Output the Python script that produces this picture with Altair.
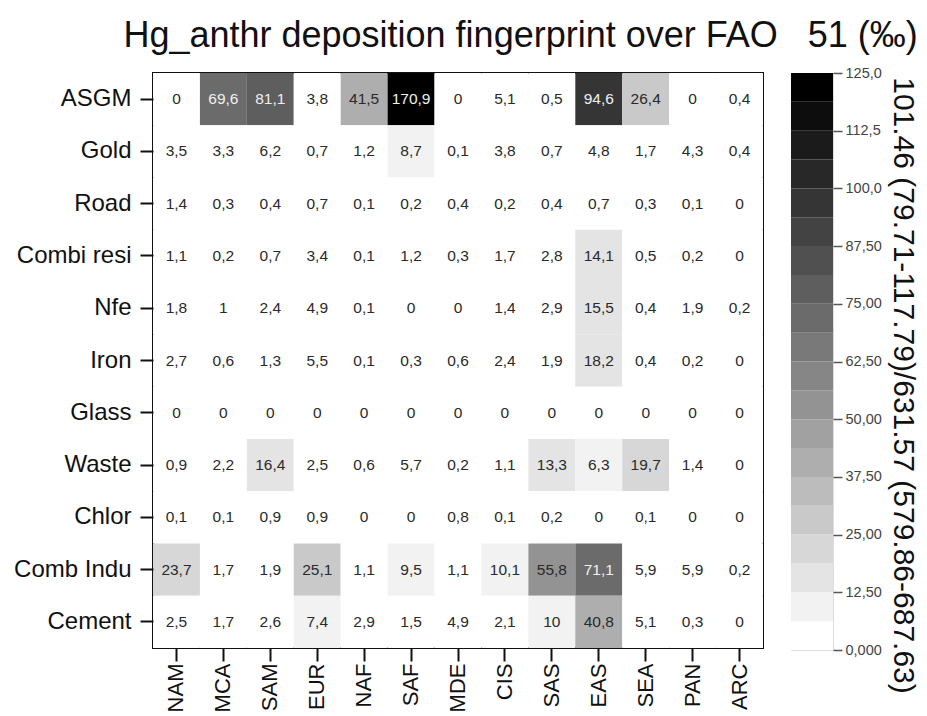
import altair as alt
import pandas as pd

sources = ["ASGM", "Gold", "Road", "Combi resi", "Nfe", "Iron", "Glass",
           "Waste", "Chlor", "Comb Indu", "Cement"]
regions = ["NAM", "MCA", "SAM", "EUR", "NAF", "SAF", "MDE", "CIS", "SAS",
           "EAS", "SEA", "PAN", "ARC"]
values = [
    [0, 69.6, 81.1, 3.8, 41.5, 170.9, 0, 5.1, 0.5, 94.6, 26.4, 0, 0.4],
    [3.5, 3.3, 6.2, 0.7, 1.2, 8.7, 0.1, 3.8, 0.7, 4.8, 1.7, 4.3, 0.4],
    [1.4, 0.3, 0.4, 0.7, 0.1, 0.2, 0.4, 0.2, 0.4, 0.7, 0.3, 0.1, 0],
    [1.1, 0.2, 0.7, 3.4, 0.1, 1.2, 0.3, 1.7, 2.8, 14.1, 0.5, 0.2, 0],
    [1.8, 1, 2.4, 4.9, 0.1, 0, 0, 1.4, 2.9, 15.5, 0.4, 1.9, 0.2],
    [2.7, 0.6, 1.3, 5.5, 0.1, 0.3, 0.6, 2.4, 1.9, 18.2, 0.4, 0.2, 0],
    [0, 0, 0, 0, 0, 0, 0, 0, 0, 0, 0, 0, 0],
    [0.9, 2.2, 16.4, 2.5, 0.6, 5.7, 0.2, 1.1, 13.3, 6.3, 19.7, 1.4, 0],
    [0.1, 0.1, 0.9, 0.9, 0, 0, 0.8, 0.1, 0.2, 0, 0.1, 0, 0],
    [23.7, 1.7, 1.9, 25.1, 1.1, 9.5, 1.1, 10.1, 55.8, 71.1, 5.9, 5.9, 0.2],
    [2.5, 1.7, 2.6, 7.4, 2.9, 1.5, 4.9, 2.1, 10, 40.8, 5.1, 0.3, 0],
]

# colour bar: 20 bands of 6.25 between 0 and 125
band_edges = [0, 6.25, 12.5, 18.75, 25, 31.25, 37.5, 43.75, 50, 56.25, 62.5,
              68.75, 75, 81.25, 87.5, 93.75, 100, 106.25, 112.5, 118.75, 125]
band_grays = ["#ffffff", "#f2f2f2", "#e4e4e4", "#d7d7d7", "#c9c9c9",
              "#bcbcbc", "#aeaeae", "#a1a1a1", "#939393", "#868686",
              "#797979", "#6b6b6b", "#5e5e5e", "#505050", "#434343",
              "#353535", "#282828", "#1b1b1b", "#0d0d0d", "#000000"]
cbar_ticks = [0, 12.5, 25, 37.5, 50, 62.5, 75, 87.5, 100, 112.5, 125]

title_text = "Hg_anthr deposition fingerprint over FAO\u00a0\u00a0 51 (\u2030)"
cbar_title = "101.46 (79.71-117.79)/631.57 (579.86-687.63)"

FONT = "Liberation Sans"

rows = []
for si, s in enumerate(sources):
    for ri, r in enumerate(regions):
        rows.append({"source": s, "region": r, "value": values[si][ri]})
df = pd.DataFrame(rows)

color_scale = alt.Scale(type="threshold", domain=band_edges[1:-1], range=band_grays)

base = alt.Chart(df).encode(
    x=alt.X("region:N", sort=regions, title=None,
            scale=alt.Scale(paddingInner=0, paddingOuter=0),
            axis=alt.Axis(orient="bottom", labelAngle=-90, labelFontSize=22,
                          labelFont=FONT, labelColor="#111", tickSize=13,
                          tickWidth=2, tickColor="#111", domain=False,
                          labelPadding=2)),
    y=alt.Y("source:N", sort=sources, title=None,
            scale=alt.Scale(paddingInner=0, paddingOuter=0),
            axis=alt.Axis(orient="left", labelFontSize=24, labelFont=FONT,
                          labelColor="#111", tickSize=13, tickWidth=2,
                          tickColor="#111", domain=False, labelPadding=9)),
)

rects = base.mark_rect().encode(
    color=alt.Color("value:Q", scale=color_scale, legend=None)
)

texts = base.transform_calculate(
    label="replace(format(datum.value, '.1~f'), '.', ',')"
).mark_text(font=FONT, fontSize=15.5).encode(
    text="label:N",
    color=alt.condition("datum.value > 60", alt.value("#f0f0f0"), alt.value("#2a2a2a")),
)

heat = alt.layer(rects, texts).properties(width=610, height=575)

cbar_rows = []
for i in range(len(band_edges) - 1):
    cbar_rows.append({"lo": band_edges[i], "hi": band_edges[i + 1],
                      "mid": (band_edges[i] + band_edges[i + 1]) / 2})
cdf = pd.DataFrame(cbar_rows)

cbar = alt.Chart(cdf).mark_rect().encode(
    y=alt.Y("lo:Q", scale=alt.Scale(domain=[0, 125], nice=False, zero=True),
            title=cbar_title,
            axis=alt.Axis(orient="right", values=cbar_ticks,
                          labelExpr="datum.value == 0 ? '0,000' : replace(format(datum.value, '.4r'), '.', ',')",
                          labelFontSize=14.5, labelFont=FONT, labelColor="#444",
                          tickSize=9, tickColor="#555", tickWidth=1.5,
                          domain=False, grid=False, labelPadding=3,
                          titleAngle=90, titleFontSize=30, titleFont=FONT,
                          titleFontWeight="normal", titleColor="#111",
                          titlePadding=6, titleY=312, labelFlush=False)),
    y2="hi:Q",
    color=alt.Color("mid:Q", scale=color_scale, legend=None),
).properties(width=42, height=577)

chart = alt.hconcat(
    heat.properties(view=alt.ViewConfig(stroke="#111", strokeWidth=2)),
    cbar,
    spacing=26,
).properties(
    title=alt.TitleParams(title_text, fontSize=36, font=FONT, fontWeight="normal",
                          color="#111", anchor="end", offset=10),
    padding={"left": 12, "top": 17, "right": 4, "bottom": 5},
).configure_view(
    stroke="#666", strokeWidth=1
).configure(background="white")

chart.save("out.html", embed_options={"renderer": "svg", "actions": False})
